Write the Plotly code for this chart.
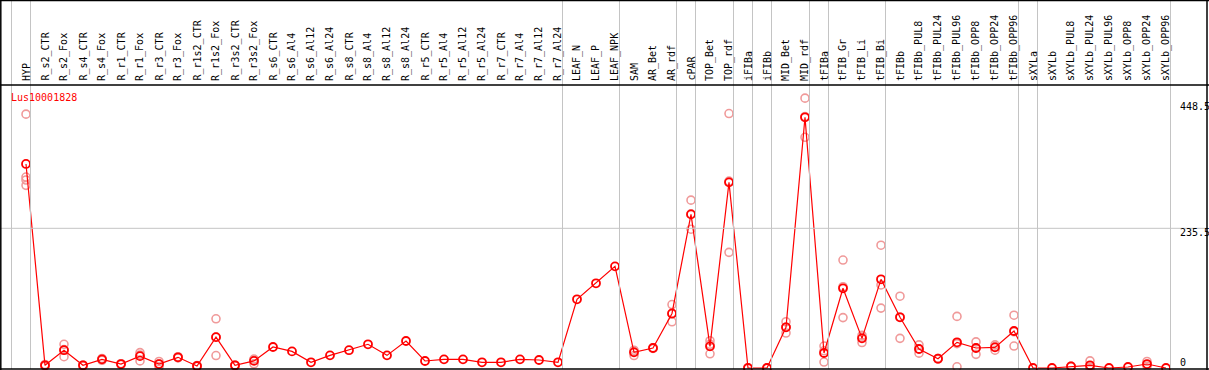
import plotly.graph_objects as go

W, H = 1209, 370

categories = [
    "HYP",
    "R_s2_CTR", "R_s2_Fox", "R_s4_CTR", "R_s4_Fox", "R_r1_CTR", "R_r1_Fox",
    "R_r3_CTR", "R_r3_Fox", "R_r1s2_CTR", "R_r1s2_Fox", "R_r3s2_CTR", "R_r3s2_Fox",
    "R_s6_CTR", "R_s6_Al4", "R_s6_Al12", "R_s6_Al24",
    "R_s8_CTR", "R_s8_Al4", "R_s8_Al12", "R_s8_Al24",
    "R_r5_CTR", "R_r5_Al4", "R_r5_Al12", "R_r5_Al24",
    "R_r7_CTR", "R_r7_Al4", "R_r7_Al12", "R_r7_Al24",
    "LEAF_N", "LEAF_P", "LEAF_NPK",
    "SAM", "AR_Bet", "AR_rdf",
    "cPAR",
    "TOP_Bet", "TOP_rdf",
    "iFIBa",
    "iFIBb",
    "MID_Bet", "MID_rdf",
    "tFIBa",
    "tFIB_Gr", "tFIB_Li", "tFIB_Bi",
    "tFIBb", "tFIBb_PUL8", "tFIBb_PUL24", "tFIBb_PUL96", "tFIBb_OPP8", "tFIBb_OPP24", "tFIBb_OPP96",
    "sXYLa",
    "sXYLb", "sXYLb_PUL8", "sXYLb_PUL24", "sXYLb_PUL96", "sXYLb_OPP8", "sXYLb_OPP24", "sXYLb_OPP96",
]

# index of the last category of each group (group boundaries), -1 = before first
group_ends = [-1, 0, 28, 31, 34, 35, 37, 38, 39, 41, 42, 45, 52, 53, 60]

means = [
    344,
    4.5, 30, 4.5, 14.6, 6.7, 20, 6.7, 18, 3.4, 52, 4.5, 12,
    35.4, 28, 9.6, 21.3,
    30, 40, 21.3, 45.5,
    11.8, 14.6, 14.6, 9.6,
    9.6, 14.6, 13.5, 9.6,
    115.8, 142.8, 171.4,
    26.4, 33.7, 92,
    259,
    36.5, 313,
    0,
    0,
    68.6, 422.7,
    25.3,
    134.4, 50, 149.5,
    85.5, 32, 15.7, 43.3, 33.7, 34.8, 62.4,
    0,
    0, 2.8, 4.5, 0, 1.7, 6.7, 0,
]

replicates = {
    "HYP": [428, 322, 317, 308],
    "R_s2_CTR": [3, 5, 6],
    "R_s2_Fox": [40, 31, 19],
    "R_s4_CTR": [4, 5, 4],
    "R_s4_Fox": [16, 13, 15],
    "R_r1_CTR": [7, 6, 7],
    "R_r1_Fox": [26, 22, 12],
    "R_r3_CTR": [11, 7, 2],
    "R_r3_Fox": [19, 17, 18],
    "R_r1s2_CTR": [3, 4, 3],
    "R_r1s2_Fox": [83, 52, 21],
    "R_r3s2_CTR": [4, 5, 4],
    "R_r3s2_Fox": [7, 14, 15],
    "SAM": [28, 21, 30],
    "AR_Bet": [33, 34, 34],
    "AR_rdf": [107, 91, 78],
    "cPAR": [283, 260, 234],
    "TOP_Bet": [46, 40, 24],
    "TOP_rdf": [429, 315, 195],
    "iFIBa": [0, 0, 0],
    "iFIBb": [0, 0, 0],
    "MID_Bet": [78, 69, 59],
    "MID_rdf": [455, 424, 389],
    "tFIBa": [37, 29, 10],
    "tFIB_Gr": [182, 137, 85],
    "tFIB_Li": [43, 52, 55],
    "tFIB_Bi": [207, 140, 101],
    "tFIBb": [121, 86, 50],
    "tFIBb_PUL8": [39, 32, 25],
    "tFIBb_PUL24": [16, 15, 16],
    "tFIBb_PUL96": [87, 41, 2],
    "tFIBb_OPP8": [44, 34, 23],
    "tFIBb_OPP24": [39, 36, 30],
    "tFIBb_OPP96": [89, 61, 37],
    "sXYLb_PUL8": [3, 3, 2],
    "sXYLb_PUL24": [12, 1, 1],
    "sXYLb_OPP24": [11, 6, 3],
}

gene_name = "Lus10001828"
y_tick_values = [448.5, 235.5, 0]
y_tick_labels = ["448.5", "235.5", "0"]

# ---- layout geometry (pixels) ----
X0_PX, STEP_PX = 26.0, 19.0       # centre of first category, spacing
Y0_PX, PX_PER_UNIT = 368.0, 0.5931  # y pixel of value 0, pixels per unit
HEADER_PX = 85.0
RIGHT_PX = 1207.0

x_range = [-X0_PX / STEP_PX, (W - X0_PX) / STEP_PX]
y_range = [-(H - Y0_PX) / PX_PER_UNIT, Y0_PX / PX_PER_UNIT]

def px_x(p):
    return p / W

def px_y(p):
    return 1 - p / H

xs = list(range(len(categories)))

fig = go.Figure()

rx, ry = [], []
for i, c in enumerate(categories):
    for v in replicates.get(c, []):
        rx.append(i)
        ry.append(v)

fig.add_trace(go.Scatter(
    x=rx, y=ry, mode="markers",
    marker=dict(symbol="circle-open", size=8, color="#f09a9a", line=dict(width=1.6, color="#f09a9a")),
    hoverinfo="skip", showlegend=False,
))
fig.add_trace(go.Scatter(
    x=xs, y=means, mode="lines+markers",
    line=dict(color="#ff0000", width=1.2),
    marker=dict(symbol="circle-open", size=8, color="#ff0000", line=dict(width=1.8, color="#ff0000")),
    text=categories, hovertemplate="%{text}: %{y}<extra></extra>",
    showlegend=False,
))

shapes = []
grey = "#c4c4c4"
# group boundary lines
for k in group_ends:
    xp = X0_PX + STEP_PX * k + 4.5
    shapes.append(dict(type="line", xref="paper", yref="paper",
                       x0=px_x(xp), x1=px_x(xp), y0=px_y(369), y1=1,
                       line=dict(color=grey, width=1)))
# horizontal grid at middle tick
shapes.append(dict(type="line", xref="paper", yref="y",
                   x0=0, x1=px_x(RIGHT_PX), y0=y_tick_values[1], y1=y_tick_values[1],
                   line=dict(color=grey, width=1)))
# black frame lines
black = "#000000"
shapes += [
    dict(type="line", xref="paper", yref="paper", x0=0, x1=1, y0=px_y(HEADER_PX), y1=px_y(HEADER_PX), line=dict(color=black, width=1.5)),
    dict(type="line", xref="paper", yref="paper", x0=0, x1=1, y0=px_y(0.5), y1=px_y(0.5), line=dict(color=black, width=1.5)),
    dict(type="line", xref="paper", yref="paper", x0=0, x1=1, y0=px_y(369), y1=px_y(369), line=dict(color=black, width=1.5)),
    dict(type="line", xref="paper", yref="paper", x0=px_x(0.8), x1=px_x(0.8), y0=0, y1=1, line=dict(color=black, width=1.5)),
    dict(type="line", xref="paper", yref="paper", x0=px_x(RIGHT_PX), x1=px_x(RIGHT_PX), y0=0, y1=1, line=dict(color=black, width=1.5)),
]

mono = "DejaVu Sans Mono"
annotations = []
for i, c in enumerate(categories):
    annotations.append(dict(
        x=i, xref="x", y=px_y(83), yref="paper",
        text=c, textangle=-90, showarrow=False,
        xanchor="center", yanchor="bottom",
        font=dict(family=mono, size=10, color="#000000"),
    ))
annotations.append(dict(
    x=px_x(9), xref="paper", y=px_y(97), yref="paper",
    text=gene_name, showarrow=False, xanchor="left", yanchor="middle",
    font=dict(family=mono, size=10, color="#ff0000"),
))
label_y_px = [106.5, 232, 362]
for lab, ypx in zip(y_tick_labels, label_y_px):
    annotations.append(dict(
        x=px_x(1178), xref="paper", y=px_y(ypx), yref="paper",
        text=lab, showarrow=False, xanchor="left", yanchor="middle",
        font=dict(family=mono, size=10, color="#000000"),
    ))

fig.update_layout(
    width=W, height=H,
    margin=dict(l=0, r=0, t=0, b=0),
    paper_bgcolor="#ffffff", plot_bgcolor="#ffffff",
    xaxis=dict(range=x_range, visible=False, fixedrange=True),
    yaxis=dict(range=y_range, visible=False, fixedrange=True),
    shapes=shapes, annotations=annotations,
)

fig.write_html(
    "out.html",
    config={"displayModeBar": False},
    post_script="document.body.style.margin='0';document.body.style.overflow='hidden';",
)
